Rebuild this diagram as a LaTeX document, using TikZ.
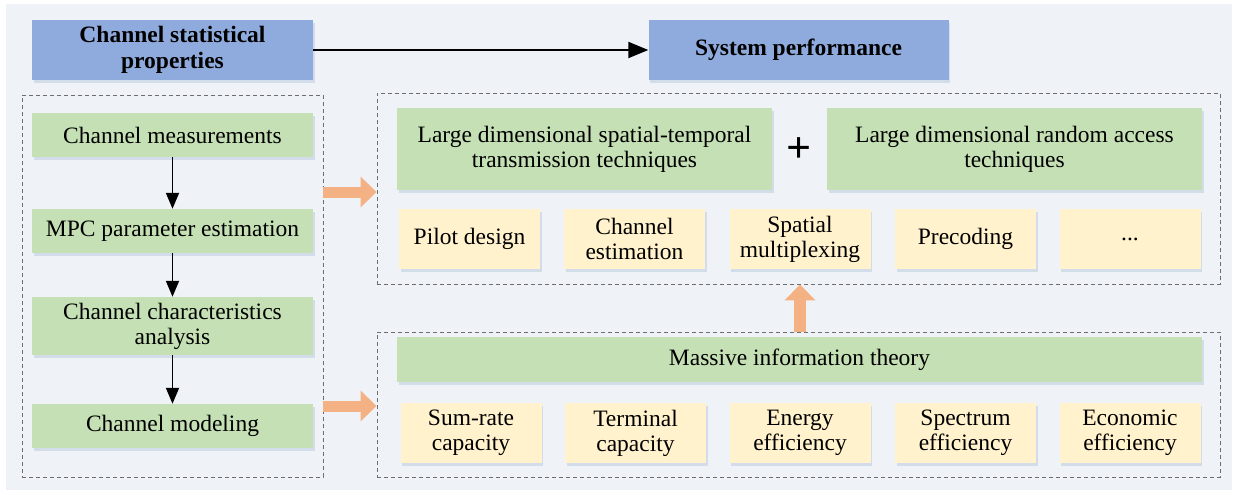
\documentclass[tikz,border=0pt]{standalone}
\usepackage{fontspec}
\setmainfont{LiberationSerif}[Extension=.ttf, UprightFont=*-Regular, BoldFont=*-Bold, ItalicFont=*-Italic, BoldItalicFont=*-BoldItalic]
\usetikzlibrary{arrows.meta,shadows}
\definecolor{bgc}{HTML}{EFF3F8}
\definecolor{bluec}{HTML}{8FAADC}
\definecolor{greenc}{HTML}{C5E0B4}
\definecolor{yellowc}{HTML}{FFF2CC}
\definecolor{orangec}{HTML}{F4B183}
\definecolor{dashc}{HTML}{6E6E6E}
\definecolor{shadc}{HTML}{9FB3CF}
\begin{document}
\begin{tikzpicture}[x=1pt,y=-1pt,
  box/.style={inner sep=0pt, align=center, font=\fontsize{23.5}{25}\selectfont,
    drop shadow={shadow xshift=1.5pt,shadow yshift=-2.5pt,opacity=0.35,fill=shadc}},
  bluebox/.style={box, fill=bluec, font=\fontsize{23.5}{25.5}\selectfont\bfseries, minimum width=281pt, minimum height=60pt},
  greenbox/.style={box, fill=greenc},
  lgreen/.style={greenbox, minimum width=281pt},
  yellowbox/.style={box, fill=yellowc, minimum width=141pt, minimum height=60pt},
  frame/.style={draw=dashc, dash pattern=on 4pt off 3pt, line width=0.9pt, inner sep=0pt},
  fat/.style={draw=orangec, line width=11pt, -{Triangle[length=16pt,width=30pt]}},
  flow/.style={line width=1.8pt, -{Triangle[length=16pt,width=13pt]}}]
\useasboundingbox (0,0) rectangle (1235,493);
\fill[bgc] (6,4) rectangle (1232,490);

% frames
\node[frame, minimum width=301pt, minimum height=382pt] (leftbox) at (172.5,286) {};
\node[frame, minimum width=843pt, minimum height=191pt] (topbox) at (798.5,188.5) {};
\node[frame, minimum width=843pt, minimum height=145pt] (botbox) at (798.5,404.5) {};

% header boxes
\node[bluebox] (stat) at (172.5,50) {Channel statistical\\properties};
\node[bluebox, minimum width=300pt] (perf) at (798.5,50) {System performance};

% left column
\node[lgreen, minimum height=44pt] (meas) at (172.5,135) {Channel measurements};
\node[lgreen, minimum height=44pt] (mpc) at (172.5,231) {MPC parameter estimation};
\node[lgreen, minimum height=58pt] (char) at (172.5,326) {Channel characteristics\\analysis};
\node[lgreen, minimum height=44pt] (model) at (172.5,426) {Channel modeling};

% top right
\node[greenbox, minimum width=375pt, minimum height=82pt] (lst) at (584.5,149) {Large dimensional spatial-temporal\\transmission techniques};
\node[font=\fontsize{44}{44}\selectfont\bfseries, inner sep=0pt] (plus) at (799,150) {+};
\node[greenbox, minimum width=375pt, minimum height=82pt] (lra) at (1014.5,149) {Large dimensional random access\\techniques};

\node[yellowbox] (t1) at (469.5,239) {Pilot design};
\node[yellowbox] (t2) at (634.5,239) {Channel\\estimation};
\node[yellowbox] (t3) at (800,239) {Spatial\\multiplexing};
\node[yellowbox] (t4) at (965.5,239) {Precoding};
\node[yellowbox] (t5) at (1130,239) {...};

% bottom right
\node[greenbox, minimum width=805pt, minimum height=45pt] (mit) at (799.5,359.5) {Massive information theory};
\node[yellowbox] (b1) at (471,433) {Sum-rate\\capacity};
\node[yellowbox] (b2) at (635.5,433) {Terminal\\capacity};
\node[yellowbox] (b3) at (800,433) {Energy\\efficiency};
\node[yellowbox] (b4) at (965.5,433) {Spectrum\\efficiency};
\node[yellowbox] (b5) at (1130,433) {Economic\\efficiency};

% connectors
\draw[line width=2pt, -{Triangle[length=20pt,width=16pt]}] (stat.east) -- (perf.west);
\draw[flow] (meas.south) -- (mpc.north);
\draw[flow] (mpc.south) -- (char.north);
\draw[flow] (char.south) -- (model.north);

\coordinate (o1) at (0,192);
\coordinate (o2) at (0,406);
\draw[fat] (leftbox.east |- o1) -- (topbox.west |- o1);
\draw[fat] (leftbox.east |- o2) -- (topbox.west |- o2);
\draw[fat, line width=12pt] (botbox.north -| t3) -- (topbox.south -| t3);
\end{tikzpicture}
\end{document}
